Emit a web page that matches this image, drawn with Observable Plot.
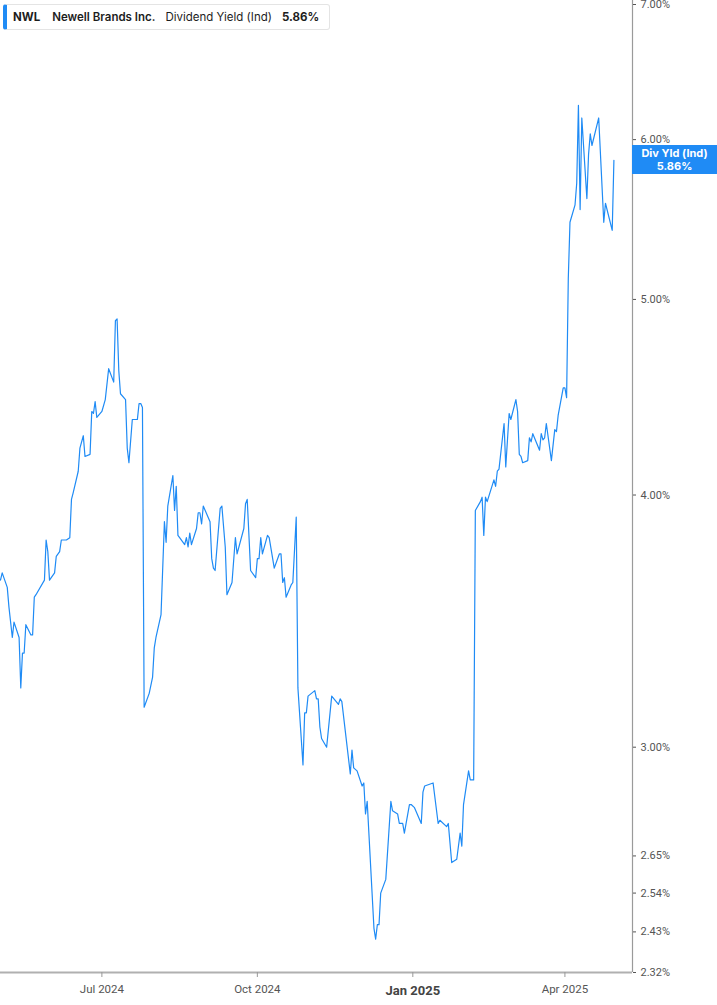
<!DOCTYPE html>
<html>
<head>
<meta charset="utf-8">
<script src="https://cdn.jsdelivr.net/npm/d3@7"></script>
<script src="https://cdn.jsdelivr.net/npm/@observablehq/plot@0.6"></script>
<style>
  html, body { margin: 0; padding: 0; background: #fff; }
  #wrap { position: relative; width: 717px; height: 1005px; overflow: hidden; }
  #legend {
    position: absolute; left: 3px; top: 4px; width: 327px; height: 26px;
    border: 1px solid #e4e4e4; border-left: 4px solid #1f8bf5; border-radius: 3px;
    background: #fff; font-family: Inter, "Noto Sans", sans-serif; font-size: 11.5px;
    color: #1d1d1d; display: flex; align-items: center; box-sizing: border-box; white-space: nowrap;
  }
  #legend span { display: inline-block; }
  #badge {
    position: absolute; left: 632px; width: 85px; height: 29px; background: #1f8bf5;
    color: #fff; font-family: Inter, "Noto Sans", sans-serif; font-size: 11px; font-weight: 700;
    text-align: center; line-height: 12.5px; display: flex; flex-direction: column; justify-content: center;
  }
</style>
</head>
<body>
<div id="wrap">
  <div id="chart"></div>
  <div id="legend">
    <span style="margin-left:6px;font-weight:700">NWL</span>
    <span style="margin-left:12px;font-weight:600">Newell Brands Inc.</span>
    <span style="margin-left:10px;font-weight:400">Dividend Yield (Ind)</span>
    <span style="margin-left:10px;font-weight:700">5.86%</span>
  </div>
  <div id="badge"><div>Div Yld (Ind)</div><div>5.86%</div></div>
</div>
<script>
const dates = [
  "2024-05-02","2024-05-03","2024-05-06","2024-05-07","2024-05-09","2024-05-10","2024-05-13","2024-05-14","2024-05-15","2024-05-16",
  "2024-05-17","2024-05-20","2024-05-21","2024-05-22","2024-05-23","2024-05-28","2024-05-29","2024-05-30","2024-05-31","2024-06-03",
  "2024-06-04","2024-06-06","2024-06-07","2024-06-10","2024-06-12","2024-06-13","2024-06-14","2024-06-17","2024-06-18","2024-06-20",
  "2024-06-21","2024-06-24","2024-06-25","2024-06-26","2024-06-27","2024-06-28","2024-07-01","2024-07-03","2024-07-05","2024-07-08",
  "2024-07-09","2024-07-10","2024-07-11","2024-07-12","2024-07-15","2024-07-16","2024-07-17","2024-07-19","2024-07-22","2024-07-23",
  "2024-07-24","2024-07-25","2024-07-26","2024-07-29","2024-07-31","2024-08-01","2024-08-02","2024-08-05","2024-08-07","2024-08-08",
  "2024-08-09","2024-08-12","2024-08-13","2024-08-14","2024-08-15","2024-08-16","2024-08-19","2024-08-20","2024-08-21","2024-08-22",
  "2024-08-23","2024-08-26","2024-08-27","2024-08-28","2024-08-29","2024-08-30","2024-09-03","2024-09-04","2024-09-05","2024-09-06",
  "2024-09-09","2024-09-10","2024-09-12","2024-09-13","2024-09-16","2024-09-18","2024-09-19","2024-09-23","2024-09-24","2024-09-25",
  "2024-09-27","2024-09-30","2024-10-01","2024-10-02","2024-10-03","2024-10-04","2024-10-07","2024-10-08","2024-10-11","2024-10-14",
  "2024-10-15","2024-10-16","2024-10-17","2024-10-18","2024-10-21","2024-10-22","2024-10-24","2024-10-25","2024-10-28","2024-10-29",
  "2024-10-30","2024-10-31","2024-11-04","2024-11-05","2024-11-06","2024-11-07","2024-11-08","2024-11-11","2024-11-14","2024-11-18",
  "2024-11-19","2024-11-20","2024-11-25","2024-11-26","2024-11-27","2024-11-29","2024-12-02","2024-12-03","2024-12-04","2024-12-05",
  "2024-12-09","2024-12-10","2024-12-11","2024-12-12","2024-12-13","2024-12-16","2024-12-19","2024-12-20","2024-12-23","2024-12-24",
  "2024-12-26","2024-12-27","2024-12-30","2024-12-31","2025-01-02","2025-01-06","2025-01-07","2025-01-08","2025-01-13","2025-01-16",
  "2025-01-17","2025-01-21","2025-01-22","2025-01-24","2025-01-27","2025-01-29","2025-01-30","2025-01-31","2025-02-03","2025-02-04",
  "2025-02-06","2025-02-07","2025-02-10","2025-02-11","2025-02-12","2025-02-13","2025-02-14","2025-02-18","2025-02-19","2025-02-20",
  "2025-02-21","2025-02-24","2025-02-25","2025-02-27","2025-02-28","2025-03-03","2025-03-04","2025-03-05","2025-03-06","2025-03-07",
  "2025-03-10","2025-03-11","2025-03-12","2025-03-13","2025-03-17","2025-03-18","2025-03-19","2025-03-20","2025-03-21","2025-03-24",
  "2025-03-26","2025-03-27","2025-03-28","2025-03-31","2025-04-01","2025-04-02","2025-04-03","2025-04-04","2025-04-07","2025-04-08",
  "2025-04-09","2025-04-10","2025-04-11","2025-04-14","2025-04-15","2025-04-16","2025-04-17","2025-04-21","2025-04-24","2025-04-25",
  "2025-04-29","2025-04-30"
];
const yields = [
  3.63,3.66,3.60,3.52,3.40,3.46,3.40,3.21,3.34,3.34,
  3.45,3.41,3.41,3.56,3.57,3.63,3.80,3.75,3.63,3.66,
  3.73,3.75,3.80,3.80,3.81,3.98,4.01,4.11,4.22,4.28,
  4.18,4.19,4.40,4.39,4.45,4.37,4.40,4.46,4.62,4.55,
  4.88,4.89,4.61,4.49,4.46,4.22,4.15,4.36,4.36,4.44,
  4.44,4.42,3.14,3.19,3.25,3.36,3.40,3.49,3.88,3.79,
  3.95,4.09,3.93,4.04,3.82,3.81,3.78,3.81,3.77,3.83,
  3.78,3.85,3.92,3.92,3.87,3.95,3.88,3.72,3.68,3.67,
  3.94,3.95,3.77,3.57,3.62,3.81,3.74,3.85,3.96,3.98,
  3.67,3.64,3.72,3.72,3.81,3.74,3.82,3.81,3.68,3.74,
  3.74,3.62,3.64,3.56,3.61,3.62,3.90,3.21,2.94,3.12,
  3.12,3.18,3.20,3.17,3.17,3.07,3.03,3.00,3.18,3.15,
  3.17,3.16,2.91,2.99,2.93,2.92,2.87,2.88,2.78,2.82,
  2.44,2.41,2.45,2.45,2.54,2.58,2.82,2.79,2.78,2.75,
  2.75,2.72,2.81,2.81,2.80,2.75,2.85,2.87,2.88,2.75,
  2.76,2.74,2.75,2.63,2.64,2.72,2.68,2.81,2.92,2.89,
  2.89,3.93,3.97,3.99,3.82,3.99,3.97,4.07,4.04,4.11,
  4.12,4.34,4.13,4.39,4.36,4.46,4.40,4.19,4.18,4.15,
  4.16,4.27,4.25,4.29,4.21,4.29,4.26,4.27,4.34,4.16,
  4.31,4.30,4.38,4.52,4.52,4.47,5.12,5.46,5.57,5.71,
  6.24,5.54,6.15,5.61,5.90,6.04,5.96,6.15,5.46,5.58,
  5.41,5.86
];
const xTicks = ["2024-07-01","2024-10-01","2025-01-01","2025-04-01"];
const xTickLabels = ["Jul 2024","Oct 2024","Jan 2025","Apr 2025"];
const yTicks = [2.32, 2.43, 2.54, 2.65, 3, 4, 5, 6, 7];
const lastValue = 5.86;

const data = dates.map((d, i) => ({date: new Date(d + "T00:00:00Z"), value: yields[i]}));
const xStart = new Date("2024-05-02T00:00:00Z");
const xEnd = new Date("2025-05-11T00:00:00Z");
const tickDates = xTicks.map(d => new Date(d + "T00:00:00Z"));
const labelOf = new Map(tickDates.map((d, i) => [+d, xTickLabels[i]]));
const boldTick = tickDates.filter((d, i) => xTickLabels[i].startsWith("Jan"));
const normalTicks = tickDates.filter((d, i) => !xTickLabels[i].startsWith("Jan"));

const chart = Plot.plot({
  width: 717,
  height: 1005,
  marginLeft: 0,
  marginRight: 85,
  marginTop: 4,
  marginBottom: 33,
  style: {fontFamily: "Roboto, 'Liberation Sans', sans-serif", fontSize: "11px", color: "#555", background: "#fff", overflow: "visible"},
  x: {type: "utc", domain: [xStart, xEnd], label: null},
  y: {type: "log", domain: [2.32, 7], label: null},
  marks: [
    Plot.ruleX([xEnd], {stroke: "#9a9a9a", strokeWidth: 1.2, insetTop: -4}),
    Plot.ruleY([2.32], {stroke: "#b0b0b0", strokeWidth: 2}),
    Plot.axisY({anchor: "right", label: null, ticks: yTicks, tickFormat: d => d.toFixed(2) + "%", tickSize: 3, tickPadding: 5, stroke: "#555", fill: "#555", fontSize: 11}),
    Plot.axisX({label: null, ticks: normalTicks, tickFormat: d => labelOf.get(+d), tickSize: 5, tickPadding: 7, stroke: "#999", fill: "#555", fontSize: 11.5}),
    Plot.axisX({label: null, ticks: boldTick, tickFormat: d => labelOf.get(+d), tickSize: 5, tickPadding: 8, stroke: "#999", fill: "#444", fontSize: 13, fontWeight: "bold"}),
    Plot.lineY(data, {x: "date", y: "value", stroke: "#1f8bf5", strokeWidth: 1.2, curve: "linear"})
  ]
});
document.getElementById("chart").appendChild(chart);
const yPix = chart.scale("y").apply(lastValue);
const badge = document.getElementById("badge");
badge.style.top = (yPix - 14.5) + "px";
</script>
</body>
</html>
